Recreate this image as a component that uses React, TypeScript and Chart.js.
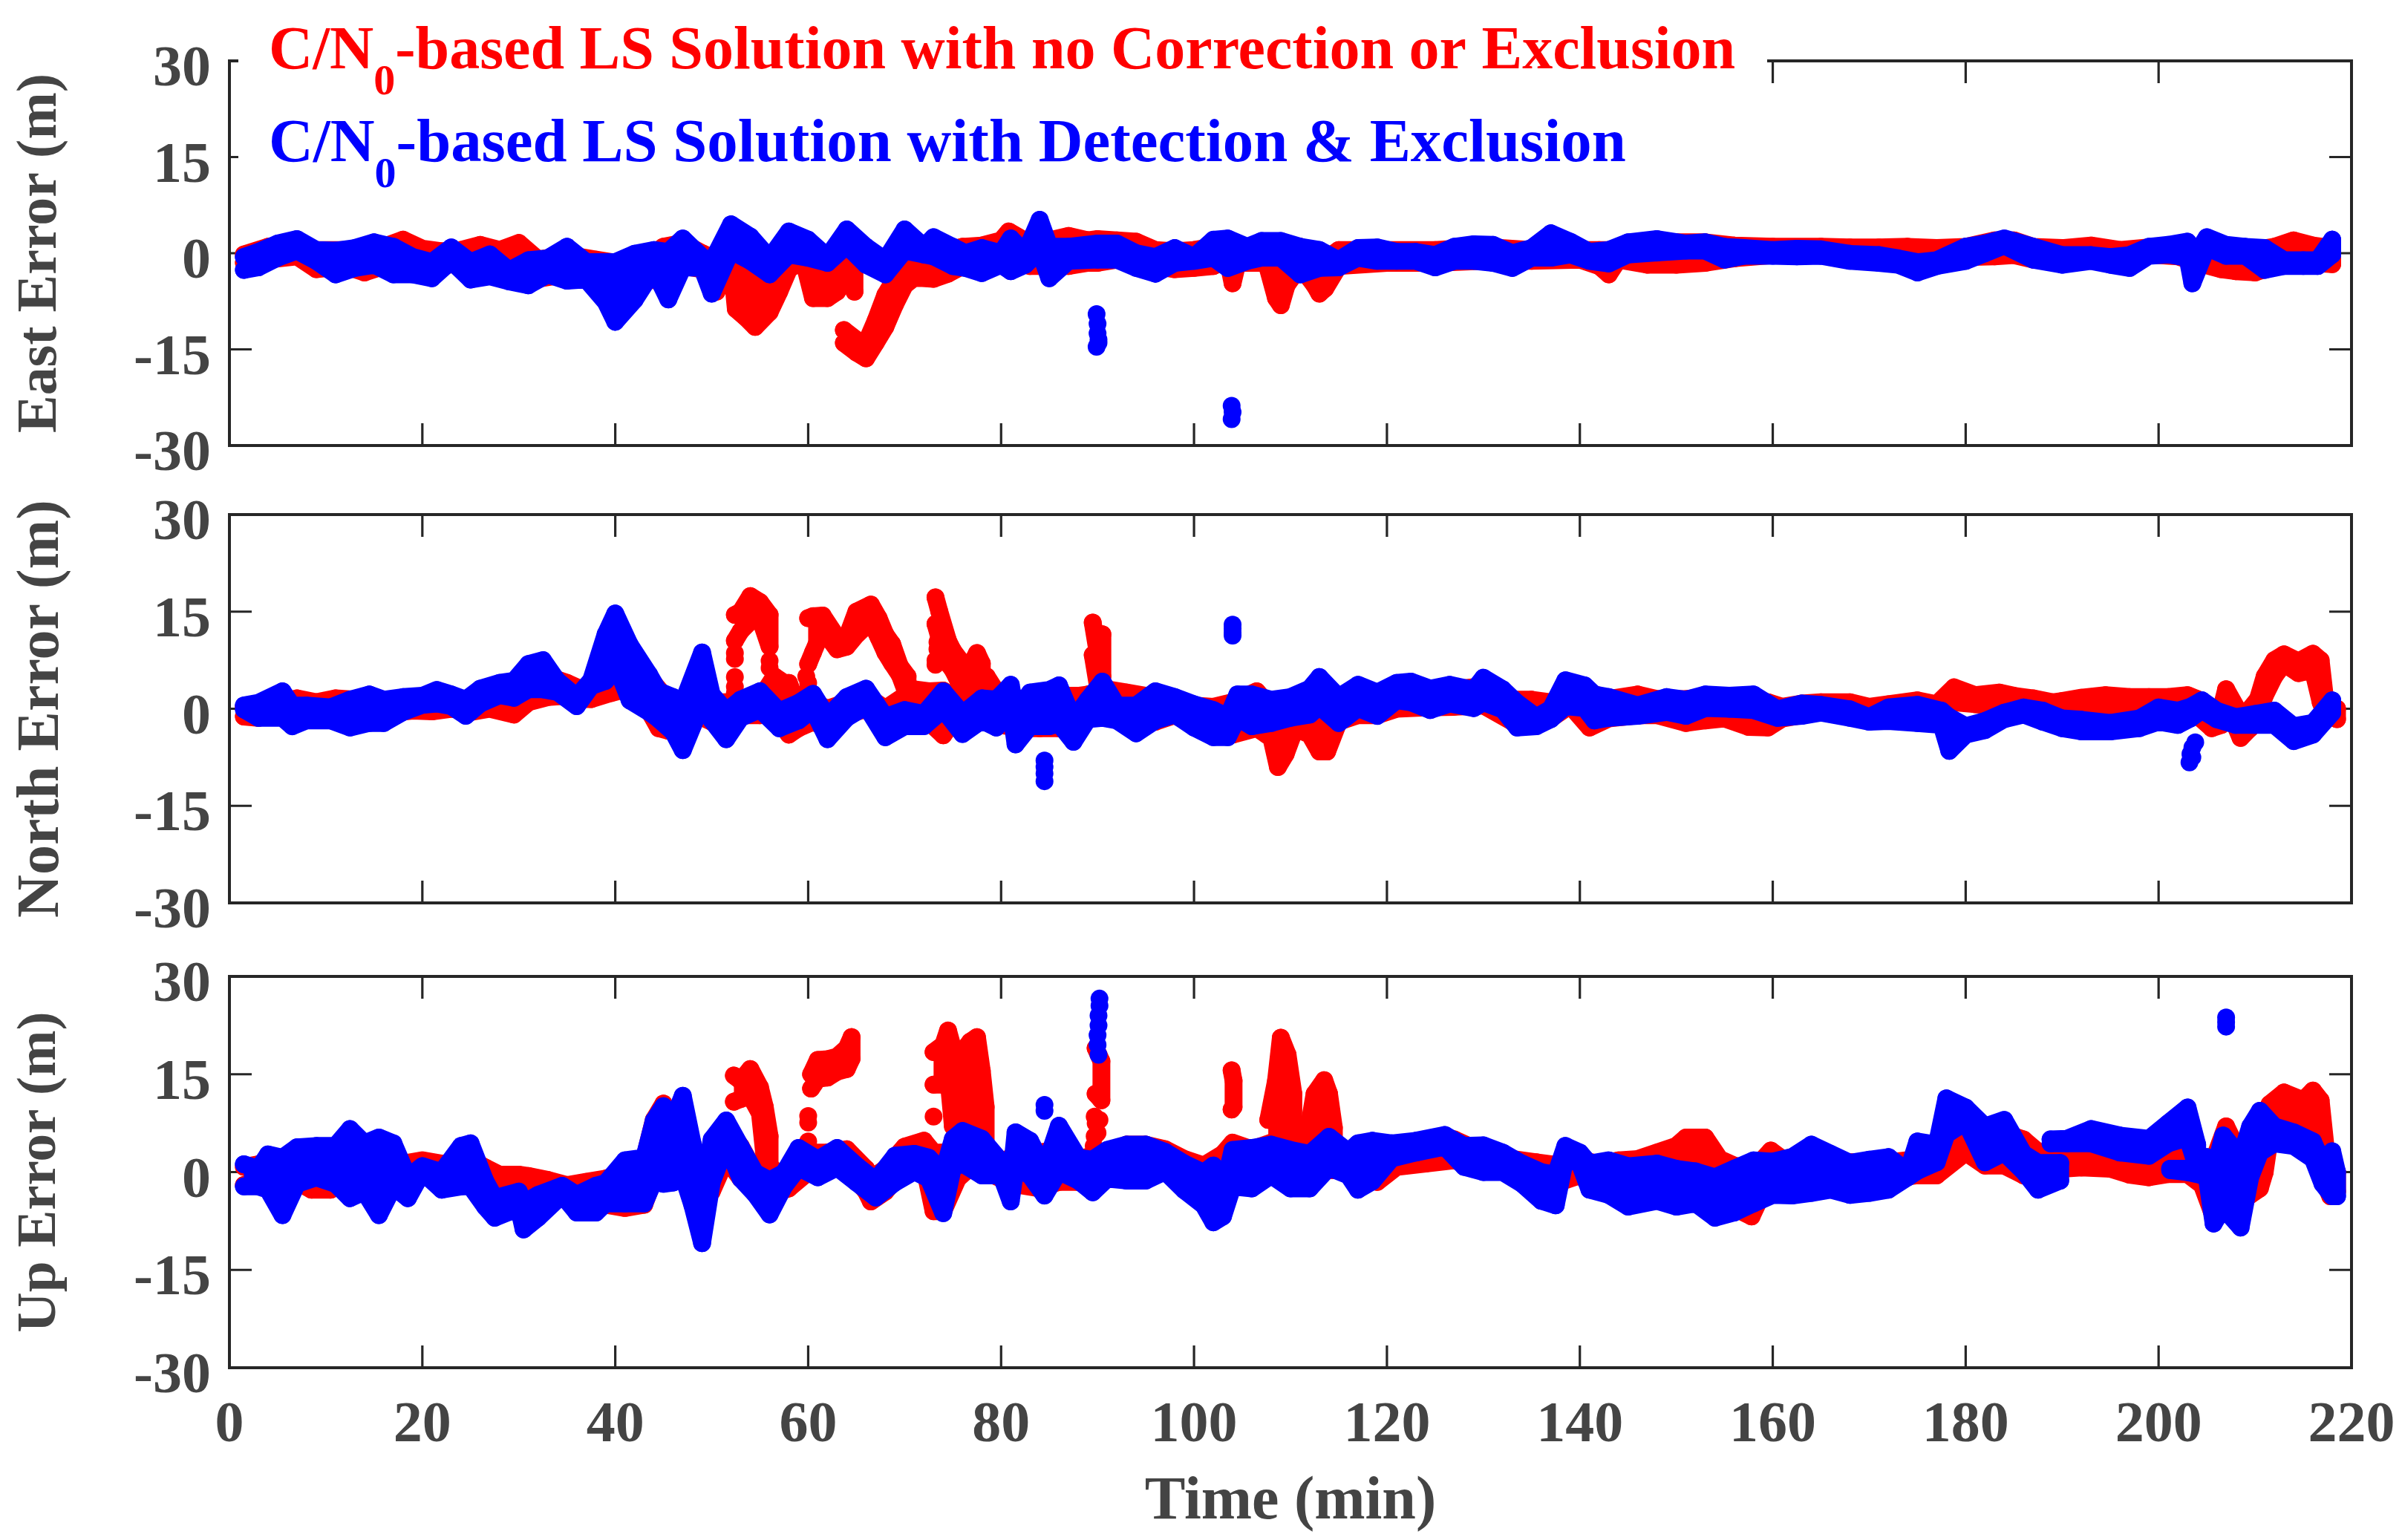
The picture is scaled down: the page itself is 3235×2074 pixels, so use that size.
import React, { useEffect, useRef } from "react";
import { Chart, registerables } from "chart.js";

Chart.register(...registerables);

type Band = [number, number, number]; // time, low, high of the cloud of fixes
type Dot = [number, number]; // time, error

const xTicks = [0, 20, 40, 60, 80, 100, 120, 140, 160, 180, 200, 220];
const yTicks = [-30, -15, 0, 15, 30];
const legendRed = ["C/N", "0", "-based LS Solution with no Correction or Exclusion"];
const legendBlue = ["C/N", "0", "-based LS Solution with Detection & Exclusion"];

/* ---------- East ---------- */
const eastBlue: Band[] = [
  [1.5,-2.6,-.6],[3,-2.2,.2],[5,-.7,1.5],[7,.4,2.2],[9,-1.2,.5],[11,-3.3,.4],[13,-2.3,.8],[15,-1.8,1.7],[17,-3.3,1],[19,-3.3,-.6],
  [21,-3.9,-1.4],[23,-1.2,.9],[25,-4.1,-1.4],[27,-3.6,-.2],[29,-4.4,-2.7],[31,-5,-1.1],[33,-3.3,-.8],[35,-4.3,1],[37,-4.1,-1.4],[39,-7.6,-1.4],
  [40,-10.7,-1.4],[42,-7.3,-.1],[44,-2.6,.5],[45.5,-7.2,.2],[47,-2.2,2.3],[49,-2.3,-.6],[50,-6.3,-1.4],[52,.4,4.5],[54,-1.2,2.6],[56,-3.3,-.8],
  [58,-.2,3.4],[60,-.7,2.1],[62,-1.5,-.6],[64,1.2,3.7],[66,-1.8,1],[68,-3.3,-1.1],[70,.4,3.7],[72,-.2,1],[73,-.5,2.5],[75,-2,1],
  [76.3,-2.3,0],[78,-3.1,.8],[80,-1.8,0],[81,-2.8,2.3],[82.5,-1.8,0],[84,.4,5.2],[85,-3.9,1],[87,-1.2,1],[90,-1,1.5],[92,-1,1.5],
  [94,-2.3,0],[96,-3.2,-.6],[98,-1.5,.8],[100,-1.2,-.6],[102,-.7,2.1],[103.5,-2.3,2.3],[105.5,-1.2,1],[107,-.7,1.9],[109,-.7,1.9],[111,-3.3,1],
  [113,-2.3,.5],[115,-2.2,-1.1],[117,-.7,.8],[119,-1.2,.9],[121,-1.2,.2],[123,-1.2,.2],[125,-2.2,-.3],[127,-1.2,1],[129,-1.2,1.4],[131,-1.5,1.3],
  [133,-2.3,0],[135,-.7,.8],[137,-.7,3.1],[139,-.2,1.8],[141,-1.2,.2],[143,-1.6,.5],[145,-.2,1.7],[148,.1,2.2],[151,.4,1.5],[153,.4,1.7],
  [155,-1,1],[157,-.4,.8],[160,-.4,.5],[162.5,-.5,.7],[165,-.4,.6],[168,-1.2,-.1],[171,-1.5,-.3],[173,-1.8,-.8],[175,-3,-1.4],[177,-2,-1.1],
  [180,-1.2,1],[182,0,1.5],[184,1.2,2.3],[187,-1,1],[190,-1.8,-.3],[193,-1.2,-.3],[195,-1.8,-.6],[197,-2.3,-.3],[199,-.4,1],[201,-.2,1.3],
  [203,-.7,1.8],[203.5,-4.7,-1.1],[205,.9,2.5],[207,-.4,1.3],[209,-.4,1],[211,-2.6,.8],[213,-2,-1.1],[215,-2,-1.1],[216.5,-2,-1.1],[218,-.2,2.1],
];
const eastBlueDots: Dot[] = [
  [89.9,-9.5],[90,-11],[90,-12.5],[90.1,-13.5],[89.9,-14.6],[90.1,-14],
  [103.9,-23.8],[104,-24.8],[103.9,-25.9],
];
const eastRed: Band[] = [
  [1.5,-1.5,-.2],[4,-1,1],[7,-.5,1.5],[9,-2.5,.5],[12,-2,.5],[14,-3,.5],[16,-2,1],[18,-1.5,2.1],[20,-1,.7],[22,-2,.3],
  [24,-1.5,.5],[26,-2,1.3],[28,-2,.5],[30,-2,1.6],[32,-4,-1],[34,-3.5,-.5],[36,-4,-.5],[38,-4.5,-1],[40,-5,-1.5],[42,-4,-.5],
  [43.5,-4.2,-.5],[45,-4.2,1],[47,-2,1.6],[49,-2.5,0],[50.5,-6,-1],[52,-1,.5],[52.5,-8.7,.3],[53.5,-10,-3],[54.5,-11.5,-5],[56,-9.2,-5],
  [57,-6,-1],[58,-2.5,1],[59.5,-1,1.8],[60.5,-7,0],[62,-7,-2],[63,-6,-1],[64,-3,.5],[64.8,-6,-2],
];
const eastRedDrop: Band[] = [
  [63.7,-14,-12],[65,-15.5,-13.5],[66,-16.4,-14],[67,-14,-10.5],[68,-11.5,-6.5],[69,-8,-4],[70,-5,-1.5],[71,-3.8,-1],[73,-4,-.5],[74.5,-3.2,.5],
  [76,-2,1],[78,-1.5,1.2],[80,-1,2],[80.8,-1,3.4],[83,-2,1.5],[85,-2,2],[87,-2,2.7],[89,-1.5,2],[90,-1.5,2.2],[92,-1,2],
  [94,-1,1.8],[96,-2,.5],[98,-2.5,.3],[100,-2.3,.5],[102,-2,1],[103.5,-1,1],[104,-4.7,-.5],[104.5,-1.5,1],[106,-1.5,1],[107.5,-1.5,1],
  [108.5,-7,-1],[109,-8.1,-2],[109.6,-5,-1],[111,-2,1],[112.5,-5,-1],[113,-6.3,-1.5],[113.6,-5.5,-1],[115,-2,.5],[120,-1.5,.5],[125,-1.5,.5],
  [130,-1.2,1],[135,-1.2,.5],[140,-1,.5],[142,-2,.5],[143,-3.3,.5],[144,-1,.5],[147,-1.8,1.5],[150,-1.8,1.7],[153,-1.5,1.7],[156,-.8,1.2],
  [160,-.3,1],[165,-.2,1],[168,-.5,.9],[171,-.5,.9],[174,-.8,1],[177,-1,.8],[180,-.6,1],[183,-.5,2],[185,-.3,2],[187,-1,1],
  [190,-1.3,.8],[193,-.8,1.2],[196,-1,.5],[199,-.2,.9],[202,-.5,1],[204,-1.5,1],[206.5,-2.5,.5],[208,-2.8,.5],[210,-3,.5],[212,-2,1],
  [214,-1,2],[216,-1.5,1.2],[218,-1.7,.8],
];

/* ---------- North ---------- */
const northBlue: Band[] = [
  [1.5,-.1,.5],[3,-1.4,.9],[5.5,-1.4,2.7],[6.5,-2.7,.5],[8,-1.8,.5],[10.5,-1.8,.2],[12.5,-2.9,1.4],[14.5,-2.2,2.2],[16,-2.2,1.4],[18,-.5,1.8],
  [20,.6,2],[21.5,.8,2.9],[23,.4,2.2],[24.5,-1.1,1.4],[26,.8,3.1],[28,2.1,4],[29.5,1.7,4.3],[31,3,6.9],[32.5,3,7.5],[34,2.6,4.3],
  [36,.4,1.8],[37.5,3.5,4.4],[39,4.3,11.5],[40,7,14.7],[41.5,1.3,9.9],[43.5,-.5,5.3],[44.5,-1.6,2.7],[46,-3.6,1.8],[47,-6.4,.9],[49,.8,8.7],
  [50,-1.8,2.2],[51.5,-4.7,-.4],[53,-1.4,1.4],[55,-.1,2.7],[57,-3,-.4],[59,-1.8,.9],[60.5,-.1,2.3],[62,-4.7,-1.3],[64,-1.4,1.8],[66,.4,3.1],
  [68,-4.4,-1.3],[70,-2.7,-.2],[72,-2.7,-.8],[74,-.1,2.7],[76,-3.9,-.8],[78,-1.8,1.6],[79.5,-2.9,1.4],[81,-.1,3.7],[81.5,-5.5,-.4],[83,-2.7,2.5],
  [85,-2.7,2.9],[86,-2.3,3.6],[87.5,-5.1,-1.7],[89,-1.6,1.4],[90.5,-1.4,4.2],[92,-1.8,.5],[94,-3.8,.5],[96,-1.8,2.7],[98,-.9,1.8],[100,-2.9,.7],
  [102,-4.4,-.2],[103.5,-4.4,-1.3],[104.5,-1.4,2.2],[106,-2.7,2.2],[108,-2.2,1.4],[110,-1.4,1.8],[112,-.9,3.1],[113,.4,4.9],[115,-2.2,1.8],[117,.1,3.7],
  [119,-1.1,2.5],[121,1.3,4],[122.5,1,4.2],[124.5,-.2,3.1],[126.5,.8,3.7],[129,.1,2.9],[130,1,4.8],[132,-.1,3],[133.5,-2.9,.9],[135.5,-2.7,-1.3],
  [137,-1.6,0],[138.5,.4,4.4],[140.5,.1,3.6],[141.5,-1.8,2.2],[143,-1.4,1.8],[146,-1.1,.5],[149,-.5,1.8],[151,-1.1,1.4],[153,.1,2.2],[155.5,0,2],
  [158,-.2,2.2],[160.5,-1.4,-.1],[163,-1.1,.8],[165,-.6,.6],[168,-1.4,-.1],[170,-2,-1.3],[172,-1.9,.2],[175,-2.2,.6],[177.5,-2.5,-.3],[178.3,-6.5,-1.3],
  [180,-4,-2.7],[182,-3.3,-1.9],[184,-1.6,-.6],[186,-.9,.2],[188,-2,-.3],[190,-3,-1.5],[192,-3.5,-1.7],[195,-3.5,-2.2],[198,-3,-1.5],[200,-2,.2],
  [202,-2.5,-.3],[203.3,-1.5,.3],[204.5,-.2,1.3],[206,-1.6,-.3],[208,-2.5,-1.3],[210,-2.5,-.8],[212,-2.5,-.3],[214,-5,-2.7],[216,-4,-2.2],[218,-.6,1.3],
];
const northBlueDots: Dot[] = [
  [104,13],[104,12.4],[104,11.8],[104,11.3],
  [84.5,-8],[84.5,-9],[84.5,-10],[84.5,-11.2],
  [203.8,-5.2],[203.5,-6],[203.3,-7],[203.2,-8.3],[203.5,-7.5],
];
const northRed: Band[] = [
  [1.5,-1.2,.3],[3,-1.4,.5],[5,-1,.7],[7,-.8,1.6],[9,-.8,1],[11,-1,1.6],[13,-1,1.4],[15,-1.5,1.2],[17,-.6,1.2],[19,-.3,1.6],
  [21,-.4,1.5],[23,0,1.5],[25,-.5,1],[27,0,1.5],[29.5,-.9,2.5],[31,1,5],[33,1.8,5],[35,2,4],[36.5,1.5,3],[37.5,1.5,3.5],
  [39.5,2.4,6],[41,3,7.5],[42,2,6],[43,1,5.8],[44.5,-3,3],[45.5,-3.4,1.5],[47,-3.3,1],[48.5,-1,1.5],[50,-2,1],[51.5,-2,1],
  [53,-1,1],[55,-1,1.5],[56.5,1,5],[57.5,-3,4],[58,-4,4],[59,-3,0],[60.5,-2,1],[62,-3,0],[64,-1,1],[66,0,2],
  [68,-3,0],[70,-2,2],[71,1.8,3],[72.5,-2,2.7],[74,-4.1,2.8],[75,-2,2],[76.8,-2,3],[78,-1,4],[78.5,-2,5],[80,-2.5,1.5],
  [82,-3,1.5],[84,-3,2],[86,-3,2],[88,-2.5,2],[89,-1,2.2],[91,-1,3],[93,-1,2.5],[95,-2,2],[96,-2,1.8],[98,-1,1.5],
  [100,-2.5,.5],[102,-3,.3],[104,-4,1],[106.5,-3,2.7],[107.5,-4,1],[108,-4.4,1],[108.7,-9,0],[109.5,-7,0],[110.5,-3,1.5],[112,-4,1.5],
  [113,-6.6,1.5],[113.8,-6.6,1],[115,-2,1.5],[117,-1,1.5],[119,-1,2],[121,0,3],[124,.2,3],[127,.3,3],[130,.5,3.5],[133,-2,1.4],
  [135,-1.5,1.4],[137,-1.5,1],[139,.5,2.5],[141,-2.9,2.5],[143,-1.5,1.5],[146,-1,2.2],[148,-1,1.5],[151,-2.2,1.5],[153,-1.8,1.8],[155,-1.5,1.5],
  [157.5,-2.8,1.5],[159.5,-2.9,1],[161,-1.5,.3],[163,-1,.8],[165,-.5,1],[168,-1,1],[170,-1.5,.3],[172,-1,.7],[175,-.8,1.3],[177,-.5,.7],
  [178.8,1,3.3],[181,.7,2.1],[183.5,.3,2.5],[185,.3,2],[187,.5,1.6],[189,-.3,1],[190,-.7,1.2],[192,0,1.7],[194.5,.3,2.1],[197,.3,1.8],
  [199,0,1.8],[201,0,1.8],[203,-.3,2.1],[204,-1,1.5],[205.5,-3,-.3],[206.5,-2.5,0],[207,.8,3],[208.5,-4.5,-1],[209.5,-3,0],[210.3,-1,1.5],
  [211,2,5],[212,5,7.5],[213,7,8.4],[214.5,5.5,7.3],[216,6,8.5],[216.8,1,7.5],[217.3,-1,1],[218.5,-1.6,0],
];
const northRedTowerA: Band[] = [
  [52.4,10.5,14.5],[53,12,15],[54,13.5,17.4],[55,14,16.5],[56,9.6,14.5],
];
const northRedTowerB: Band[] = [
  [60,6.9,14],[60.5,8.7,14.3],[61.5,12.2,14.4],[63,9.2,11],[64,9.6,11],[65,11.4,15],[66.5,13.5,16.1],[67.3,11,14],[68,8.7,11.5],[68.7,7,10],
  [69.5,5.2,6.6],[70.3,2,5],
];
const northRedTowerC: Band[] = [
  [73.2,13.1,17.2],[73.6,11,15],[74.5,7,10.5],[75,6,9],[76,3,7],[76.8,2,6.6],[77.5,1,8.6],[78,-1,7],
];
const northRedTowerD: Band[] = [
  [89.5,8.3,13.3],[90.2,2,7],[90.5,5,11.5],
];
const northRedDots: Dot[] = [
  [52.4,8.6],[52.4,7.7],[52.4,4.9],[52.4,3.4],[52.4,2.4],
  [56,7.4],[56,6.3],[59.8,5],[60,4],[60,3],
  [73.4,10.3],[73.4,9.2],[73.2,7.5],[73.2,6.8],
];

/* ---------- Up ---------- */
const upBlue: Band[] = [
  [1.5,-2.2,1.2],[3,-2.2,.5],[4,-2.7,2.7],[5.5,-6.6,2.2],[7,-1.8,3.8],[9,-.8,4],[11,-1.8,4],[12.5,-4,6.6],[14,-3,4.4],[15.5,-6.6,5.3],
  [17,-2.2,4.4],[18.5,-4,-.8],[20,0,.9],[22,-2.7,0],[24,-2.2,4],[25,-2.2,4.4],[26.5,-5.3,-1.3],[27.5,-7,-4],[30,-5.5,-3],[30.5,-8.8,-4.7],
  [32,-7,-3.5],[34.5,-3.5,-2.1],[36,-6.2,-3.5],[38,-6.2,-2.1],[39,-4.8,-1.7],[41,-4.8,1.8],[43,-4.8,2.2],[44,-1.4,7.9],[45,-1.8,10.1],[46,-1.6,8],
  [47,-.5,11.7],[48,-5.1,4.5],[49,-10.9,-3],[50,-1.6,5],[51.5,4.2,7.9],[53,-1,3.9],[54.5,-3.4,-.1],[56,-6.5,-1.3],[57.5,-2.2,-.1],[59,.7,3.7],
  [61,-.8,1.9],[63,.7,3.7],[65,-1.6,1],[67,-3.9,-1.3],[69,-1.6,2.5],[71,.1,2.8],[72.5,-1,2.2],[74,-6.3,-.1],[75,.7,5.1],[76,1.3,6.3],
  [78,-.5,5.1],[80,-.5,1.6],[81,-4.5,-1.3],[81.5,.7,6.1],[83,-.5,4.8],[84.5,-3.6,.5],[86,.1,7.1],[88,-1.3,2.2],[89.5,-3.1,1.9],[91,-1,3.4],
  [93,-1.3,4.2],[95,-1.3,4.2],[97,.1,3.1],[99,-2.8,1.3],[101,-5.1,-.1],[102,-7.7,1],[103,-6.8,-3],[104,-2.2,3.4],[106,-2.5,3.7],[108,-.5,4.2],
  [110,-2.5,3.4],[112,-2.5,2.8],[114,.7,5.4],[116,-.5,3.1],[117,-2.7,4.4],[118.5,-1.4,4.8],[120.5,2.1,4.4],[123,3,4.8],[126,3.9,5.7],[128,.8,4],
  [130,0,4.1],[132,0,3],[134,-1.8,1.3],[136,-4.4,0],[137.5,-5.1,-.4],[138.5,2.1,4],[140,1.3,3],[141,-2.7,1.3],[143,-3.5,1.8],[145,-5.3,.9],
  [148,-4.4,1.3],[150,-5.3,.5],[152,-4.8,.1],[154,-7,-.8],[156,-6.2,.5],[158,-4.8,1.8],[160,-3.5,1.6],[162,-3.6,2.3],[164,-3.2,4.2],[166,-2.7,2.8],
  [168,-3.5,1.4],[170,-3.2,1.9],[172,-2.7,2.3],[174,-.8,0],[175,.2,4.7],[177,1.5,4.2],[178,5.8,11.3],[180,7.7,9.9],[182,1.5,7],[184,3,8],
  [186,.1,2.8],[187.5,-2.7,1.4],[189.8,-1.3,1.4],
];
const upBlueUpper: Band[] = [
  [188.8,4.4,5],[190.5,4.4,5.1],[193,4.4,6.6],[196,3,5.6],[199,2.5,5.1],[201,4.4,7.5],[203,5.3,9.9],[204,.6,4.2],
];
const upBlueTail: Band[] = [
  [201.2,.3,.5],[203,0,.5],[204.5,-.5,2],[205,-.8,2.3],[205.7,-7.9,-.5],[206.7,-5.5,5.6],[208.5,-8.5,2.3],[209.5,-.8,7],[210.5,3,9.4],[212,4.4,7],
  [214,4,6.1],[216,2,4.7],[217,-1.8,1.4],[218,-3.7,3.2],[218.5,-3.7,0],
];
const upBlueDots: Dot[] = [
  [90.2,26.6],[90.2,25.5],[90.1,24],[90.1,22.5],[90,21],[90,19.5],[90.1,18],
  [84.5,10.3],[84.5,9.4],
  [207,23.7],[207,23],[207,22.3],
];
const upRed: Band[] = [
  [1.5,-2,.8],[3,-1.5,1.2],[5,-1.5,2],[7,-1.5,3],[8.5,-2.7,3],[10.5,-2.7,3],[12,-1.5,3],[14,-2,3],[16,-2,3],[18,-1.5,1.3],
  [20,-.8,1.8],[22,-1,1.3],[23,-1,1.3],[25,-1.5,2],[26.5,-2.5,.7],[28,-3,-.4],[30,-4,-.4],[31,-4,-.6],[33,-3.5,-1.2],[35,-3,-2],
  [37,-4,-1.5],[39,-5,-1],[41,-5.5,0],[43,-5,2],[44,-1,8],[45,-1.5,10.5],[46,-1.5,6],[47,-.5,8],[48,-4,4],[49,-5,1],
  [50,-3,4],[51.5,2,6.8],[53,-1,4],[54.5,-2,0],[56,-4,1],[57,-3,-.5],[58,-2.5,.5],[60,0,3],[62,.5,3],[64,.5,3.5],
  [66,-3,.5],[66.5,-4.5,-1],[68,-3,.5],[70,.5,3.9],[72,1,4.8],[73,-6,3],[74,-6,3],[75.5,-1,3],[77,1,5.5],[78.5,0,3],
  [80,-1,1.5],[82,-2,3],[84,-2.5,3],[86,-1.5,3.5],[88,-1.5,2],[89.5,-2,2.5],[91,-1,3],[93,-.5,4.2],[95,-.5,4.2],[97,0,3.5],
  [99,-1,2],[101,-2,1],[103,-2.5,2.8],[104,0,4.5],[106,0,3.5],[108,0,4.5],[110,.3,5],[112,.2,4],[115,.3,3],[117,0,3.5],
  [119,-1.5,4.3],[121,.8,3],[124,1.3,3],[127,1.8,5],[130,.3,3],[133,0,2],[135.5,-2,1.5],[138,-1.5,1],[140,-.5,2],[142,-3,1.2],
  [144,-2.5,1.8],[146,-3,2],[148,-3,3],[150,-3,4],[151,-3,5.3],[153,-3,5.3],[154.5,-3,2],[156,-5.5,1],[157.8,-6.8,.5],[159,-3,2],
  [159.8,-2,3.3],[161,-3,2],[163,-3,2.5],[165,-2,2],[168,-2,1.5],[170,-1,1.5],[172,-1,1.5],[175,-.5,2],[177,-.5,3],[180,3,5],
  [182,1,5.5],[184,1,6],[186,-.5,5],[188,-.5,2.5],[190,.5,4.2],[192,.7,4.5],[195,.5,3],[197,-.4,3],[199,-.8,3],[201,-.3,3],
  [203,-.3,3],[204.5,-2,1],[205.5,-6,1],[207,-3,7],[208,-5,4],[209.5,-3.5,1.5],[210.5,-2.5,3],[211,0,8],[211.5,5,10.4],[213,8,12.2],
  [215,7,11],[216,7.5,12.5],[216.8,2,11],[217.3,-2,4],[217.8,-3.7,0],[218.5,-3,0],
];
const upRedTowerA: Band[] = [
  [52.3,10.8,14.8],[53,11.2,14],[54,11.7,15.8],[55,9,13],[55.5,2,10],[56,-4,5.5],
];
const upRedTowerB: Band[] = [
  [60.3,12.8,15],[61,14.3,17.2],[62,14.5,17.3],[63,15.4,17.7],[64,15.8,19],[64.5,17.4,20.7],
];
const upRedTowerC: Band[] = [
  [73,13.4,18.4],[74,13.4,19.5],[74.5,15,21.7],[75,7,19],[76,8,18.5],[76.8,8,20],[77.5,8.8,20.7],[78,5,15.5],[78.4,3,10],
];
const upRedTowerD: Band[] = [[89.8,12,19],[90.4,11,17]];
const upRedTowerE: Band[] = [[103.9,9.6,15.6],[104.1,10,14]];
const upRedTowerF: Band[] = [
  [107.7,3,8],[108.5,4,14],[109,5,20.6],[109.7,5,18],[110.3,4,12],
];
const upRedTowerG: Band[] = [
  [111.8,3,6],[112.5,3,12],[113.5,3,14.1],[114,3,12],[114.5,3,6.8],
];
const upRedDots: Dot[] = [
  [60,8.6],[60,7.6],[60,4.7],[60,3.5],[60,2],
  [73,8.5],
  [89.7,8.5],[89.8,7.5],[90.2,8],[89.7,5.5],[89.6,4],[90,6],
];

const RED = "#ff0000";
const BLUE = "#0000ff";
const TEXT = "#444444";
const FRAME = "#262626";
const SERIF = '"Liberation Serif", serif';

function envelope(bands: Band[]) {
  const upper = bands.map(([t, , hi]) => ({ x: t, y: hi }));
  const lower = bands.map(([t, lo]) => ({ x: t, y: lo })).reverse();
  return [...upper, ...lower];
}

function bandSet(bands: Band[], color: string) {
  return {
    data: envelope(bands),
    showLine: true,
    fill: "shape",
    borderColor: color,
    backgroundColor: color,
    borderWidth: 24,
    borderCapStyle: "round",
    borderJoinStyle: "round",
    pointRadius: 12,
    pointBorderWidth: 0,
    pointBackgroundColor: color,
    tension: 0,
  };
}
function dotSet(dots: Dot[], color: string) {
  return {
    data: dots.map(([x, y]) => ({ x, y })),
    showLine: false,
    pointRadius: 12,
    pointBorderWidth: 0,
    pointBackgroundColor: color,
    backgroundColor: color,
    borderColor: color,
  };
}

const framePlugin = {
  id: "frame",
  beforeDatasetsDraw(chart: any) {
    const { ctx, chartArea: a, scales } = chart;
    ctx.save();
    ctx.strokeStyle = FRAME;
    ctx.lineWidth = 3.2;
    const L = 30;
    xTicks.forEach((v) => {
      const px = scales.x.getPixelForValue(v);
      if (v === 0 || v === 220) return;
      ctx.beginPath();
      ctx.moveTo(px, a.bottom);
      ctx.lineTo(px, a.bottom - L);
      ctx.moveTo(px, a.top);
      ctx.lineTo(px, a.top + L);
      ctx.stroke();
    });
    yTicks.forEach((v) => {
      const py = scales.y.getPixelForValue(v);
      if (v === 30 || v === -30) return;
      ctx.beginPath();
      ctx.moveTo(a.left, py);
      ctx.lineTo(a.left + L, py);
      ctx.moveTo(a.right, py);
      ctx.lineTo(a.right - L, py);
      ctx.stroke();
    });
    ctx.lineWidth = 4;
    ctx.strokeRect(a.left, a.top, a.right - a.left, a.bottom - a.top);
    ctx.restore();
  },
};

const legendPlugin = {
  id: "legendText",
  afterDatasetsDraw(chart: any) {
    const { ctx } = chart;
    ctx.save();
    ctx.fillStyle = "#ffffff";
    ctx.fillRect(321, 20, 2059, 250);
    const row = (parts: string[], color: string, baseline: number, size: number) => {
      ctx.fillStyle = color;
      ctx.textBaseline = "alphabetic";
      ctx.textAlign = "left";
      let x = 362;
      ctx.font = `bold ${size}px ${SERIF}`;
      ctx.fillText(parts[0], x, baseline);
      x += ctx.measureText(parts[0]).width;
      ctx.font = `bold 58px ${SERIF}`;
      ctx.fillText(parts[1], x, baseline + 35);
      x += ctx.measureText(parts[1]).width;
      ctx.font = `bold ${size}px ${SERIF}`;
      ctx.fillText(parts[2], x, baseline);
    };
    row(legendRed, RED, 92, 82);
    row(legendBlue, BLUE, 217, 82.8);
    ctx.restore();
  },
};

type PanelProps = {
  top: number;
  height: number;
  padTop: number;
  padBottom: number;
  title: string;
  titleSize: number;
  datasets: any[];
  showX?: boolean;
  legend?: boolean;
};

function Panel({ top, height, padTop, padBottom, title, titleSize, datasets, showX, legend }: PanelProps) {
  const ref = useRef<HTMLCanvasElement | null>(null);
  useEffect(() => {
    const chart = new Chart(ref.current as HTMLCanvasElement, {
      type: "scatter",
      data: { datasets } as any,
      plugins: legend ? [framePlugin, legendPlugin] : [framePlugin],
      options: {
        animation: false,
        responsive: false,
        devicePixelRatio: 1,
        layout: { padding: { top: padTop, right: 133, left: 0, bottom: 0 } },
        plugins: { legend: { display: false }, tooltip: { enabled: false } },
        scales: {
          x: {
            type: "linear",
            min: 0,
            max: 220,
            afterFit: (s: any) => { s.height = padBottom; },
            grid: { display: false, drawTicks: false },
            border: { display: false },
            afterBuildTicks: (s: any) => { s.ticks = xTicks.map((value) => ({ value })); },
            ticks: {
              display: !!showX,
              autoSkip: false,
              maxRotation: 0,
              padding: 40,
              color: TEXT,
              font: { family: SERIF, size: 78, weight: "bold", lineHeight: 1 },
            },
            title: {
              display: !!showX,
              text: "Time (min)",
              color: TEXT,
              font: { family: SERIF, size: 82, weight: "bold", lineHeight: 1 },
              padding: { top: 0, bottom: 9 },
            },
          },
          y: {
            type: "linear",
            min: -30,
            max: 30,
            afterFit: (s: any) => { s.width = 309; },
            grid: { display: false, drawTicks: false },
            border: { display: false },
            afterBuildTicks: (s: any) => { s.ticks = yTicks.map((value) => ({ value })); },
            ticks: {
              padding: 25,
              color: TEXT,
              callback: (v: any) => ["", String(v)],
              font: { family: SERIF, size: 78, weight: "bold", lineHeight: "26px" },
            },
            title: {
              display: true,
              text: title,
              color: TEXT,
              font: { family: SERIF, size: titleSize, weight: "bold", lineHeight: 1 },
              padding: { top: 17, bottom: 0 },
            },
          },
        },
      } as any,
    });
    return () => chart.destroy();
  }, []);
  return (
    <canvas
      ref={ref}
      width={3300}
      height={height}
      style={{ position: "absolute", left: 0, top, width: 3300, height, display: "block" }}
    />
  );
}

export default function App() {
  const east = [
    bandSet(eastBlue, BLUE),
    dotSet(eastBlueDots, BLUE),
    bandSet(eastRed, RED),
    bandSet(eastRedDrop, RED),
  ];
  const north = [
    bandSet(northBlue, BLUE),
    dotSet(northBlueDots, BLUE),
    bandSet(northRed, RED),
    bandSet(northRedTowerA, RED),
    bandSet(northRedTowerB, RED),
    bandSet(northRedTowerC, RED),
    bandSet(northRedTowerD, RED),
    dotSet(northRedDots, RED),
  ];
  const up = [
    dotSet(upBlueDots, BLUE),
    bandSet(upBlue, BLUE),
    bandSet(upBlueUpper, BLUE),
    bandSet(upBlueTail, BLUE),
    bandSet(upRed, RED),
    bandSet(upRedTowerA, RED),
    bandSet(upRedTowerB, RED),
    bandSet(upRedTowerC, RED),
    bandSet(upRedTowerD, RED),
    bandSet(upRedTowerE, RED),
    bandSet(upRedTowerF, RED),
    bandSet(upRedTowerG, RED),
    dotSet(upRedDots, RED),
  ];
  return (
    <div style={{ position: "absolute", left: 0, top: 0, width: 3235, height: 2074, background: "#fff", overflow: "hidden" }}>
      <Panel top={0} height={700} padTop={82} padBottom={100} title="East Error (m)" titleSize={76} datasets={east} legend />
      <Panel top={593} height={723} padTop={100} padBottom={100} title="North Error (m)" titleSize={80} datasets={north} />
      <Panel top={1215} height={859} padTop={100} padBottom={232} title="Up Error (m)" titleSize={75} datasets={up} showX />
    </div>
  );
}
